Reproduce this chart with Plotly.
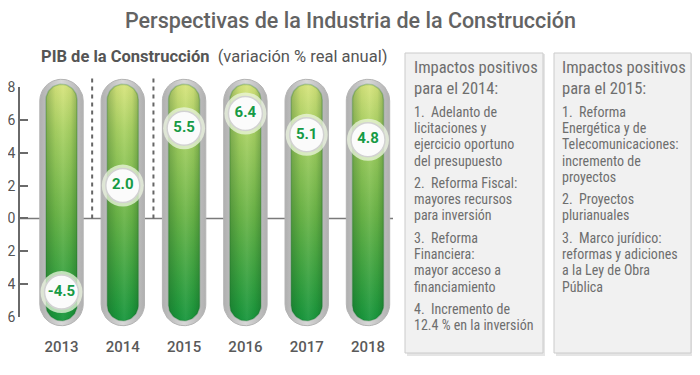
import numpy as np
import plotly.graph_objects as go

# ---------------- data ----------------
years = ["2013", "2014", "2015", "2016", "2017", "2018"]
pib_values = [-4.5, 2.0, 5.5, 6.4, 5.1, 4.8]
ytick_vals = [-6, -4, -2, 0, 2, 4, 6, 8]
ytick_text = ["6", "4", "2", "0", "2", "4", "6", "8"]
title_text = "Perspectivas de la Industria de la Construcción"
subtitle_bold = "PIB de la Construcción"
subtitle_rest = "(variación % real anual)"
box1_header = ["Impactos positivos", "para el 2014:"]
box1_items = [
    ["1.  Adelanto de", "licitaciones y", "ejercicio oportuno", "del presupuesto"],
    ["2.  Reforma Fiscal:", "mayores recursos", "para inversión"],
    ["3.  Reforma", "Financiera:", "mayor acceso a", "financiamiento"],
    ["4.  Incremento de", "12.4 % en la inversión"],
]
box2_header = ["Impactos positivos", "para el 2015:"]
box2_items = [
    ["1.  Reforma", "Energética y de", "Telecomunicaciones:", "incremento de", "proyectos"],
    ["2.  Proyectos", "plurianuales"],
    ["3.  Marco jurídico:", "reformas y adiciones", "a la Ley de Obra", "Pública"],
]

# ---------------- geometry / styles ----------------
PAGE_W, PAGE_H = 700, 375
OFF = 8                            # default page body margin
W, H = PAGE_W - OFF, PAGE_H - OFF  # figure size so it fits the window
X0PX, XS = 61.5, 61.3              # page pixel of category 0, px per category
YTOP_PX, YBOT_PX = 87.3, 316.7     # page pixel positions of y=8 and y=-6
YMIN, YMAX = ytick_vals[0], ytick_vals[-1]
YS = (YBOT_PX - YTOP_PX) / (YMAX - YMIN)
Y0PX = YTOP_PX + YMAX * YS         # page pixel of y=0

def px2x(px):
    return (px - X0PX) / XS

def py2y(py):
    return (Y0PX - py) / YS

def y2py(v):
    return Y0PX - v * YS

def pxp(px):   # page px -> paper x
    return (px - OFF) / W

def pyp(py):   # page px -> paper y
    return 1 - (py - OFF) / H

xrange_full = [px2x(OFF), px2x(PAGE_W)]
yrange_full = [py2y(PAGE_H), py2y(OFF)]

FONT_TXT = "Liberation Sans Narrow, Roboto Condensed, Arial Narrow, Roboto, sans-serif"
GRAY_TXT = "#6e6e6e"

def tube(cx_px, hw, top_px, bot_px, n=30):
    tcy = top_px + hw
    bcy = bot_px - hw
    pts = []
    for a in np.linspace(0, np.pi, n):
        pts.append((cx_px + hw * np.cos(a), tcy - hw * np.sin(a)))
    for a in np.linspace(np.pi, 2 * np.pi, n):
        pts.append((cx_px + hw * np.cos(a), bcy - hw * np.sin(a)))
    pts.append(pts[0])
    xs = [px2x(p[0]) for p in pts]
    ys = [py2y(p[1]) for p in pts]
    return xs, ys

fig = go.Figure()

top_px = y2py(YMAX)
bot_px = y2py(YMIN)
for i, yr in enumerate(years):
    cx = X0PX + i * XS
    xs, ys = tube(cx, 21.7, top_px - 8, bot_px + 9)
    fig.add_trace(go.Scatter(x=xs, y=ys, mode="lines", fill="toself",
                             fillgradient=dict(type="horizontal",
                                               colorscale=[[0, "#b0b0b0"], [0.5, "#d8d8d8"], [1, "#b0b0b0"]]),
                             line=dict(color="#b4b4b4", width=1),
                             hoverinfo="skip", showlegend=False))
    xs, ys = tube(cx, 15.5, top_px - 3, bot_px + 4)
    fig.add_trace(go.Scatter(
        x=xs, y=ys, mode="lines", fill="toself",
        fillgradient=dict(type="vertical",
                          colorscale=[[0, "#17963c"], [0.45, "#6cb548"],
                                      [0.8, "#a9d163"], [1, "#d7e47c"]]),
        line=dict(color="rgba(20,110,40,0.25)", width=1.5),
        hoverinfo="skip", showlegend=False))
    fig.add_trace(go.Scatter(
        x=xs, y=ys, mode="lines", fill="toself",
        fillgradient=dict(type="horizontal",
                          colorscale=[[0, "rgba(10,70,20,0.28)"], [0.3, "rgba(10,70,20,0.05)"],
                                      [0.55, "rgba(255,255,255,0.06)"], [0.8, "rgba(10,70,20,0.06)"],
                                      [1, "rgba(10,70,20,0.28)"]]),
        line=dict(width=0), hoverinfo="skip", showlegend=False))

# value circles (on the visible y axis)
xcat = list(range(len(years)))
fig.add_trace(go.Scatter(x=xcat, y=pib_values, yaxis="y2", mode="markers",
                         marker=dict(size=42, color="rgba(236,245,224,0.75)", line=dict(width=0)),
                         cliponaxis=False, hoverinfo="skip", showlegend=False))
fig.add_trace(go.Scatter(x=xcat, y=pib_values, yaxis="y2", mode="markers+text",
                         marker=dict(size=34, color="#fbfbfb", line=dict(color="#d2d2d2", width=1.5)),
                         text=[f"{v:.1f}" for v in pib_values], textposition="middle center",
                         textfont=dict(family="Roboto", size=15, color="#169a45", weight="bold"),
                         cliponaxis=False, hoverinfo="skip", showlegend=False))

shapes = []
# zero line
shapes.append(dict(type="line", xref="x", yref="y", x0=px2x(19), x1=px2x(393), y0=0, y1=0,
                   line=dict(color="#7a7a7a", width=1.5), layer="below"))
# dashed separators
for xv in [0.5, 1.5]:
    shapes.append(dict(type="line", xref="x", yref="y", x0=xv, x1=xv, y0=0, y1=py2y(76),
                       line=dict(color="#666666", width=2, dash="4px,4px"), layer="below"))

# boxes
for (bx0, bx1) in [(405, 543), (554, 691)]:
    shapes.append(dict(type="rect", xref="paper", yref="paper",
                       x0=pxp(bx0 + 2), x1=pxp(bx1 + 2), y0=pyp(353 + 3), y1=pyp(53 + 1),
                       fillcolor="rgba(0,0,0,0.10)", line=dict(width=0), layer="below"))
    shapes.append(dict(type="rect", xref="paper", yref="paper",
                       x0=pxp(bx0), x1=pxp(bx1), y0=pyp(353), y1=pyp(53),
                       fillcolor="#f1f1f1", line=dict(color="#cbcbcb", width=1), layer="below"))

annotations = []

def ann(text, xpx, ypx, size, color=GRAY_TXT, family=FONT_TXT, xanchor="left", weight="normal"):
    annotations.append(dict(text=text, x=pxp(xpx), y=pyp(ypx), xref="paper", yref="paper",
                            xanchor=xanchor, yanchor="middle", showarrow=False,
                            font=dict(size=size, color=color, family=family, weight=weight)))

ann(title_text, 350, 21, 21.5, color="#636363", family="Roboto", xanchor="center", weight=500)
ann(f"<b>{subtitle_bold}</b>  {subtitle_rest}", 39, 57, 16.5, color="#555555", family="Roboto")

def box_text(header, items, xpx):
    ann(header[0], xpx, 68, 16.5)
    ann(header[1], xpx, 88, 16.5)
    y = 112
    for para in items:
        for line in para:
            ann(line, xpx, y, 14)
            y += 16.2
        y += 6.3

box_text(box1_header, box1_items, 412)
box_text(box2_header, box2_items, 560)

fig.update_layout(
    width=W, height=H, margin=dict(l=0, r=0, t=0, b=0, autoexpand=False),
    paper_bgcolor="white", plot_bgcolor="rgba(0,0,0,0)",
    showlegend=False, shapes=shapes, annotations=annotations,
    xaxis=dict(domain=[0, 1], range=xrange_full, showgrid=False, zeroline=False,
               showline=False, tickvals=xcat, ticktext=years, ticks="",
               anchor="free", position=pyp(336),
               tickfont=dict(family="Roboto", size=15, color="#5a5a5a", weight=500)),
    yaxis=dict(domain=[0, 1], range=yrange_full, visible=False),
    yaxis2=dict(domain=[pyp(YBOT_PX), pyp(YTOP_PX)], range=[YMIN, YMAX],
                anchor="free", position=pxp(19), side="left",
                showgrid=False, zeroline=False, showline=True, linecolor="#6a6a6a", linewidth=1.5,
                ticks="inside", ticklen=8, tickwidth=1.5, tickcolor="#6a6a6a",
                tickvals=ytick_vals, ticktext=ytick_text,
                tickfont=dict(family="Roboto", size=14, color="#555555")),
)

fig.write_html("out.html")
